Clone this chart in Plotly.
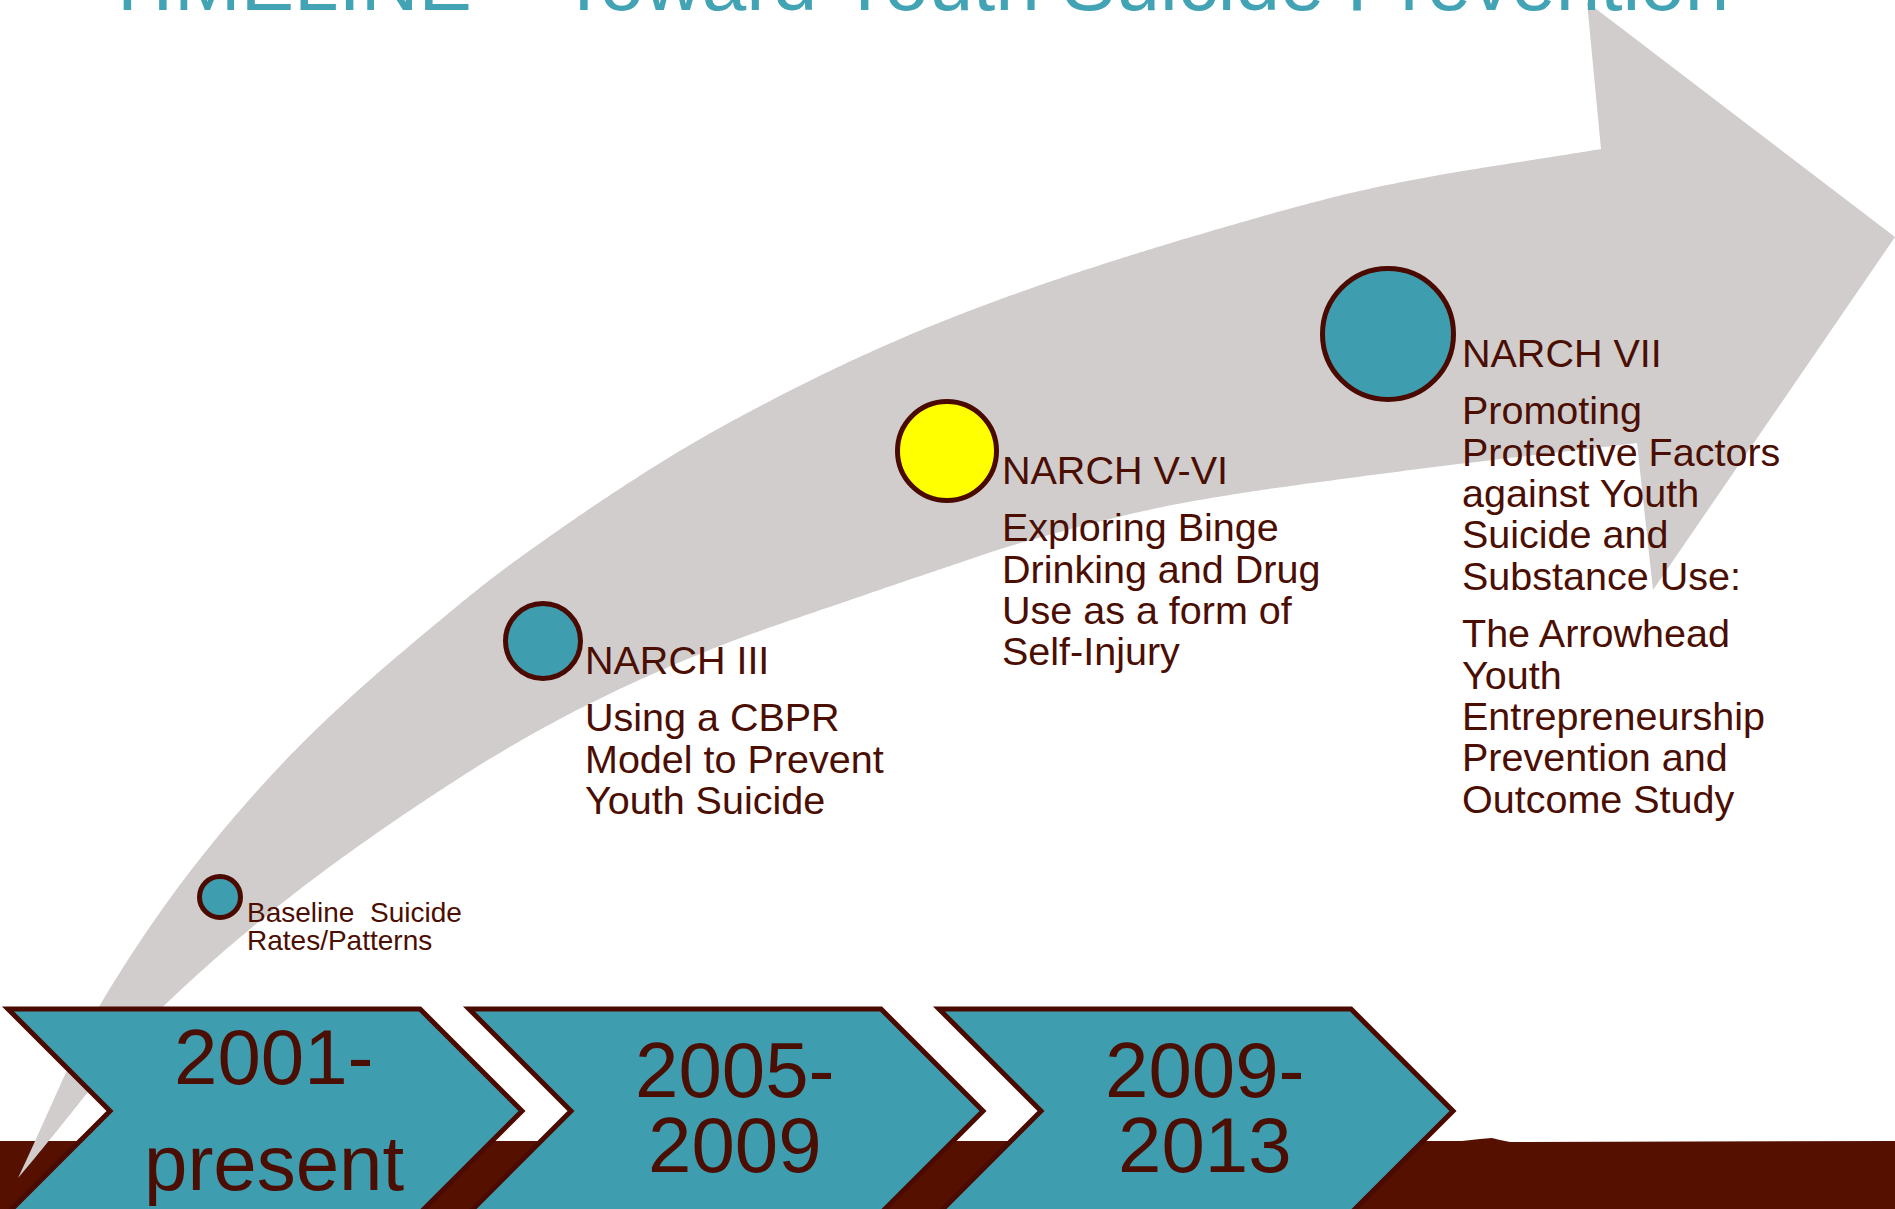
import plotly.graph_objects as go

# ---------------- data ----------------
chart_title = "TIMELINE \u2013 Toward Youth Suicide Prevention"
period_start = ["2001-", "2005-", "2009-"]
period_end = ["present", "2009", "2013"]
milestone_titles = ["", "NARCH III", "NARCH V-VI", "NARCH VII"]
milestone_text = [
    ["Baseline\u00a0 Suicide", "Rates/Patterns"],
    ["Using a CBPR", "Model to Prevent", "Youth Suicide"],
    ["Exploring Binge", "Drinking and Drug", "Use as a form of", "Self-Injury"],
    ["Promoting", "Protective Factors", "against Youth", "Suicide and", "Substance Use:", "",
     "The Arrowhead", "Youth", "Entrepreneurship", "Prevention and", "Outcome Study"],
]

# ---------------- style / layout ----------------
W, H = 1895, 1209
TEAL = "#3f9db0"
OUTLINE = "#4a0a00"
GROUND = "#561000"
ARROW = "#d0cdcc"
TEXT = "#4b0e03"
TITLE = "#42a3b5"
YELLOW = "#ffff00"
FONT = "Liberation Sans, Arial, sans-serif"

marker_colors = [TEAL, TEAL, YELLOW, TEAL]
m_cx = [220, 543, 947, 1388]
m_cy = [897, 641, 451, 334]
m_r = [23, 40, 52, 68]
m_text_dx = [4, 2, 3, 6]
LW = 5

chev_left = [8, 469, 939]
chev_top = 1009
chev_w = 412
chev_half = 102
chev_text_dx = 266
chev_base1 = [1084, 1097, 1097]
chev_base2 = [1190, 1172, 1172]
chev_fs = 78

fig = go.Figure()
shapes = []
annotations = []


def ann(x, baseline, text, size, color=TEXT, xanchor="left"):
    annotations.append(dict(
        x=x, y=baseline - 0.3465 * size, xref="x", yref="y", text=text,
        showarrow=False, xanchor=xanchor, yanchor="middle",
        font=dict(family=FONT, size=size, color=color),
        borderpad=0, borderwidth=0))


def pchip(xs, ys, step=4):
    n = len(xs)
    h = [xs[i + 1] - xs[i] for i in range(n - 1)]
    d = [(ys[i + 1] - ys[i]) / h[i] for i in range(n - 1)]
    m = [0.0] * n
    m[0], m[-1] = d[0], d[-1]
    for i in range(1, n - 1):
        if d[i - 1] * d[i] <= 0:
            m[i] = 0.0
        else:
            w1 = 2 * h[i] + h[i - 1]
            w2 = h[i] + 2 * h[i - 1]
            m[i] = (w1 + w2) / (w1 / d[i - 1] + w2 / d[i])
    out = []
    for i in range(n - 1):
        x0, x1 = xs[i], xs[i + 1]
        k = max(2, int((x1 - x0) / step))
        for j in range(k):
            t = j / k
            hh = h[i]
            h00 = 2 * t ** 3 - 3 * t ** 2 + 1
            h10 = t ** 3 - 2 * t ** 2 + t
            h01 = -2 * t ** 3 + 3 * t ** 2
            h11 = t ** 3 - t ** 2
            y = h00 * ys[i] + h10 * hh * m[i] + h01 * ys[i + 1] + h11 * hh * m[i + 1]
            out.append((x0 + t * hh, y))
    out.append((xs[-1], ys[-1]))
    return out


# brown ground
shapes.append(dict(type="path", layer="below", line=dict(width=0), fillcolor=GROUND,
                   path=(f"M0,1141 L1462,1141 L1480,1139 L1492,1138 L1500,1140 L1510,1142 "
                         f"L{W},1141 L{W},{H + 5} L0,{H + 5} Z")))

# curved grey arrow
upper = [(18, 1178), (103, 1000), (267, 780), (450, 612), (522, 556), (725, 425),
         (946, 320), (1208, 232), (1387, 185), (1601, 149)]
head = [(1587, 2), (1895, 237), (1653, 590), (1637, 443)]
lower = [(18, 1178), (170, 1000), (450, 784), (583, 707), (717, 647), (850, 600),
         (950, 566), (1017, 544), (1183, 503), (1380, 474), (1637, 443)]
up_pts = pchip([p[0] for p in upper], [p[1] for p in upper])
lo_pts = pchip([p[0] for p in lower], [p[1] for p in lower])
path = "M" + " L".join(f"{x:.1f},{y:.1f}" for x, y in up_pts)
for hx, hy in head:
    path += f" L{hx},{hy}"
path += " L" + " L".join(f"{x:.1f},{y:.1f}" for x, y in reversed(lo_pts)) + " Z"
shapes.append(dict(type="path", layer="below", line=dict(width=0), fillcolor=ARROW, path=path))

# chevrons
for i, left in enumerate(chev_left):
    t, b, m = chev_top, chev_top + 2 * chev_half, chev_top + chev_half
    r = left + chev_w
    cp = (f"M{left},{t} L{r},{t} L{r + chev_half},{m} L{r},{b} L{left},{b} "
          f"L{left + chev_half},{m} Z")
    shapes.append(dict(type="path", layer="below", fillcolor=TEAL,
                       line=dict(color=OUTLINE, width=LW), path=cp))
    cx = left + chev_text_dx
    ann(cx, chev_base1[i], period_start[i], chev_fs, xanchor="center")
    ann(cx, chev_base2[i], period_end[i], chev_fs, xanchor="center")

# milestone circles
fig.add_trace(go.Scatter(
    x=m_cx, y=m_cy, mode="markers", hoverinfo="skip",
    marker=dict(size=[2 * r - LW for r in m_r], color=marker_colors,
                line=dict(color=OUTLINE, width=LW), opacity=1)))

# milestone texts
for i, title in enumerate(milestone_titles):
    tx = m_cx[i] + m_r[i] + m_text_dx[i]
    if title:
        fs, step = 39.5, 41.3
        base = m_cy[i] + 33
        ann(tx, base, title, fs)
        base += 57
    else:
        fs, step = 28, 28
        base = m_cy[i] + 25
    for line in milestone_text[i]:
        if line == "":
            base += 16.5
            continue
        ann(tx, base, line, fs)
        base += step

# main title (mostly cut off at the top of the page)
title_fs = 80
annotations.append(dict(
    x=103 / W, y=1 - (10 - 0.3465 * title_fs) / H, xref="paper", yref="paper",
    text=chart_title, showarrow=False, xanchor="left", yanchor="middle",
    font=dict(family=FONT, size=title_fs, color=TITLE), borderpad=0, borderwidth=0))

fig.update_layout(
    width=W, height=H, margin=dict(l=0, r=0, t=0, b=0, pad=0),
    paper_bgcolor="white", plot_bgcolor="white", showlegend=False,
    xaxis=dict(range=[0, W], visible=False, fixedrange=True),
    yaxis=dict(range=[H, 0], visible=False, fixedrange=True),
    shapes=shapes, annotations=annotations,
)

fig.write_html("out.html", config={"displayModeBar": False},
               post_script="document.body.style.margin='0';document.body.style.overflow='hidden';")
